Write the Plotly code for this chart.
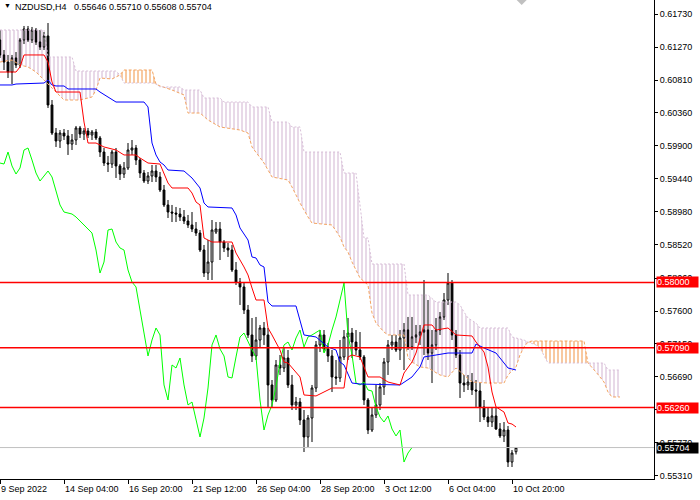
import numpy as np
import plotly.graph_objects as go

# NZDUSD H4 bars (left to right)
open_ = [0.61369, 0.61161, 0.61063, 0.60924, 0.61119, 0.61022, 0.61369, 0.61522, 0.61369, 0.61508,
         0.61341, 0.61272, 0.61425, 0.60466, 0.60076, 0.59965, 0.60076, 0.60035, 0.59923, 0.59979,
         0.60146, 0.60062, 0.60104, 0.60049, 0.60090, 0.60007, 0.59812, 0.59659, 0.59645, 0.59812,
         0.59618, 0.59506, 0.59590, 0.59840, 0.59868, 0.59701, 0.59520, 0.59409, 0.59479, 0.59548,
         0.59465, 0.59284, 0.59076, 0.58978, 0.58964, 0.58950, 0.58909, 0.58853, 0.58798, 0.58742,
         0.58686, 0.58450, 0.58130, 0.58283, 0.58700, 0.58742, 0.58561, 0.58478, 0.58450, 0.58172,
         0.58005, 0.57936, 0.57616, 0.57269, 0.56977, 0.57199, 0.57366, 0.57269, 0.56574, 0.56365,
         0.56852, 0.56810, 0.56949, 0.56574, 0.56296, 0.56337, 0.56087, 0.55851, 0.56115, 0.56532,
         0.57130, 0.57269, 0.57074, 0.56977, 0.56685, 0.56671, 0.56963, 0.57241, 0.57296, 0.57171,
         0.57060, 0.56963, 0.56365, 0.55948, 0.56157, 0.56296, 0.56546, 0.56893, 0.57130, 0.57171,
         0.57060, 0.57227, 0.57338, 0.57102, 0.57241, 0.57269, 0.57310, 0.57338, 0.57018, 0.57130,
         0.57338, 0.57519, 0.57755, 0.57991, 0.57269, 0.56991, 0.56601, 0.56574, 0.56615, 0.56504,
         0.56490, 0.56268, 0.56129, 0.56059, 0.56143, 0.55962, 0.55865, 0.55948, 0.55503, 0.55646]
high = [0.61508, 0.61230, 0.61161, 0.61161, 0.61202, 0.61397, 0.61564, 0.61564, 0.61550, 0.61536,
        0.61508, 0.61480, 0.61605, 0.60535, 0.60146, 0.60118, 0.60132, 0.60118, 0.60062, 0.60174,
        0.60174, 0.60146, 0.60146, 0.60118, 0.60132, 0.60035, 0.59868, 0.59757, 0.59840, 0.59868,
        0.59645, 0.59673, 0.59937, 0.59979, 0.59910, 0.59729, 0.59562, 0.59534, 0.59632, 0.59632,
        0.59534, 0.59354, 0.59145, 0.59076, 0.59048, 0.59034, 0.59006, 0.58937, 0.58978, 0.58839,
        0.58728, 0.58520, 0.58589, 0.58867, 0.58839, 0.58839, 0.58589, 0.58547, 0.58520, 0.58283,
        0.58061, 0.57991, 0.57686, 0.57505, 0.57519, 0.57408, 0.57449, 0.57366, 0.56643, 0.56921,
        0.56991, 0.57102, 0.57060, 0.56713, 0.56407, 0.56393, 0.56226, 0.56157, 0.56574, 0.57185,
        0.57338, 0.57338, 0.57157, 0.57060, 0.56921, 0.57199, 0.57338, 0.57505, 0.57366, 0.57338,
        0.57310, 0.56991, 0.56393, 0.56254, 0.56574, 0.56601, 0.56949, 0.57199, 0.57269, 0.57269,
        0.57338, 0.57435, 0.57519, 0.57519, 0.57408, 0.57408, 0.58033, 0.57755, 0.57338, 0.57505,
        0.57588, 0.57852, 0.58130, 0.58033, 0.57338, 0.57060, 0.56713, 0.56713, 0.56740, 0.56643,
        0.56601, 0.56365, 0.56268, 0.56268, 0.56254, 0.56045, 0.56059, 0.56004, 0.55670, 0.55710]
low = [0.61119, 0.60952, 0.60841, 0.60757, 0.60980, 0.60980, 0.61313, 0.61341, 0.61327, 0.61300,
       0.61230, 0.61230, 0.60424, 0.60049, 0.59882, 0.59868, 0.59979, 0.59771, 0.59840, 0.59910,
       0.60007, 0.59979, 0.60007, 0.59979, 0.59979, 0.59743, 0.59618, 0.59534, 0.59590, 0.59451,
       0.59423, 0.59451, 0.59562, 0.59771, 0.59632, 0.59451, 0.59381, 0.59367, 0.59395, 0.59395,
       0.59256, 0.59048, 0.58895, 0.58839, 0.58839, 0.58853, 0.58811, 0.58756, 0.58700, 0.58645,
       0.58422, 0.58075, 0.58033, 0.58033, 0.58672, 0.58311, 0.58422, 0.58353, 0.58144, 0.57964,
       0.57686, 0.57560, 0.57227, 0.56893, 0.56921, 0.57088, 0.57130, 0.56268, 0.56268, 0.56337,
       0.56713, 0.56754, 0.56532, 0.56226, 0.56226, 0.56018, 0.55642, 0.55712, 0.55781, 0.56476,
       0.57032, 0.57032, 0.56893, 0.56476, 0.56574, 0.56615, 0.56921, 0.56921, 0.56949, 0.56991,
       0.56921, 0.56296, 0.55892, 0.55920, 0.56115, 0.56226, 0.56435, 0.56713, 0.57060, 0.57032,
       0.56921, 0.56782, 0.57060, 0.57060, 0.57157, 0.57130, 0.56991, 0.56921, 0.56601, 0.57060,
       0.57269, 0.57477, 0.57686, 0.57199, 0.56949, 0.56393, 0.56476, 0.56504, 0.56435, 0.56268,
       0.56059, 0.56087, 0.55990, 0.55990, 0.55948, 0.55837, 0.55781, 0.55434, 0.55434, 0.55608]
close = [0.61161, 0.61063, 0.60924, 0.61119, 0.61022, 0.61369, 0.61522, 0.61369, 0.61508, 0.61341,
         0.61272, 0.61425, 0.60466, 0.60076, 0.59965, 0.60076, 0.60035, 0.59923, 0.59979, 0.60146,
         0.60062, 0.60104, 0.60049, 0.60090, 0.60007, 0.59812, 0.59659, 0.59645, 0.59812, 0.59618,
         0.59506, 0.59590, 0.59840, 0.59868, 0.59701, 0.59520, 0.59409, 0.59479, 0.59548, 0.59465,
         0.59284, 0.59076, 0.58978, 0.58964, 0.58950, 0.58909, 0.58853, 0.58798, 0.58742, 0.58686,
         0.58450, 0.58130, 0.58283, 0.58728, 0.58742, 0.58561, 0.58478, 0.58450, 0.58172, 0.58005,
         0.57936, 0.57616, 0.57269, 0.56977, 0.57199, 0.57366, 0.57269, 0.56574, 0.56365, 0.56852,
         0.56810, 0.56949, 0.56574, 0.56296, 0.56337, 0.56087, 0.55851, 0.56115, 0.56532, 0.57130,
         0.57269, 0.57074, 0.56977, 0.56685, 0.56671, 0.56963, 0.57241, 0.57296, 0.57171, 0.57060,
         0.56963, 0.56365, 0.55948, 0.56157, 0.56296, 0.56546, 0.56893, 0.57130, 0.57171, 0.57060,
         0.57227, 0.57338, 0.57102, 0.57241, 0.57269, 0.57310, 0.57338, 0.57018, 0.57130, 0.57338,
         0.57519, 0.57755, 0.57991, 0.57269, 0.56991, 0.56601, 0.56574, 0.56615, 0.56504, 0.56490,
         0.56268, 0.56129, 0.56059, 0.56143, 0.55962, 0.55865, 0.55948, 0.55503, 0.55628, 0.55704]

tick_index = [0, 16, 32, 48, 64, 80, 96, 112, 128]
tick_label = ["9 Sep 2022", "14 Sep 04:00", "16 Sep 20:00", "21 Sep 12:00", "26 Sep 04:00",
              "28 Sep 20:00", "3 Oct 12:00", "6 Oct 04:00", "10 Oct 20:00"]
price_ticks = [0.61730, 0.61270, 0.60810, 0.60360, 0.59900, 0.59440, 0.58980, 0.58520,
               0.58060, 0.57600, 0.57150, 0.56690, 0.56230, 0.55770, 0.55310]

# ichimoku lines, read at the bars where they turn
tenkan_idx = [0, 4, 5, 6, 11, 12, 13, 14, 20, 21, 22, 24, 26, 29, 31, 34, 35, 37, 40, 42, 43, 47, 48,
              49, 50, 51, 52, 53, 58, 59, 61, 62, 63, 64, 66, 67, 68, 69, 70, 71, 72, 75, 76, 79, 81,
              83, 86, 87, 88, 90, 92, 95, 97, 100, 101, 102, 103, 104, 105, 106, 108, 109, 112, 114,
              118, 119, 121, 122, 123, 124, 126, 127, 128, 129]
tenkan = [0.60924, 0.60924, 0.60994, 0.61161, 0.61161, 0.61063, 0.60785, 0.60646, 0.60646, 0.60229,
          0.59937, 0.59937, 0.59882, 0.59840, 0.59771, 0.59771, 0.59729, 0.59659, 0.59645, 0.59381,
          0.59312, 0.59312, 0.59242, 0.59117, 0.59076, 0.58617, 0.58589, 0.58561, 0.58561, 0.58408,
          0.58214, 0.58103, 0.57922, 0.57755, 0.57755, 0.57366, 0.57269, 0.57157, 0.57060, 0.56893,
          0.56879, 0.56685, 0.56435, 0.56421, 0.56476, 0.56532, 0.56532, 0.56963, 0.56991, 0.56963,
          0.56685, 0.56685, 0.56615, 0.56574, 0.56740, 0.56810, 0.56893, 0.57018, 0.57199, 0.57408,
          0.57408, 0.57338, 0.57366, 0.57269, 0.57255, 0.57171, 0.57032, 0.56824, 0.56476, 0.56268,
          0.56198, 0.56045, 0.56031, 0.55990]
kijun_idx = [0, 3, 4, 11, 12, 13, 14, 16, 17, 24, 25, 27, 29, 36, 37, 38, 39, 40, 41, 42, 46, 48, 50,
             51, 52, 58, 59, 60, 62, 63, 64, 65, 66, 67, 68, 74, 75, 76, 79, 81, 82, 84, 85, 86, 87,
             88, 90, 100, 103, 104, 105, 106, 112, 118, 119, 121, 124, 127, 129]
kijun = [0.60744, 0.60744, 0.60757, 0.60771, 0.60813, 0.60744, 0.60730, 0.60730, 0.60688, 0.60688,
         0.60646, 0.60577, 0.60507, 0.60507, 0.60438, 0.59937, 0.59771, 0.59673, 0.59632, 0.59562,
         0.59548, 0.59451, 0.59312, 0.59103, 0.59048, 0.59034, 0.58937, 0.58756, 0.58589, 0.58353,
         0.58339, 0.58242, 0.58214, 0.57727, 0.57672, 0.57672, 0.57477, 0.57269, 0.57241, 0.57157,
         0.57102, 0.57060, 0.56893, 0.56852, 0.56713, 0.56601, 0.56587, 0.56574, 0.56685, 0.56754,
         0.56824, 0.56963, 0.57018, 0.57018, 0.57143, 0.57088, 0.57018, 0.56810, 0.56782]
span_a_idx = [0, 3, 5, 7, 9, 11, 13, 15, 16, 20, 23, 24, 25, 28, 30, 31, 38, 39, 40, 43, 46, 47, 50,
              52, 55, 60, 62, 63, 66, 68, 72, 73, 75, 77, 78, 83, 85, 86, 87, 88, 90, 92, 93, 94, 96,
              97, 101, 102, 103, 105, 107, 110, 112, 114, 117, 118, 122, 126, 127, 129, 130, 131, 132,
              133, 146, 147, 149, 151, 152, 153, 155]
span_a = [0.61063, 0.61091, 0.61022, 0.60994, 0.60924, 0.60813, 0.60716, 0.60605, 0.60535, 0.60535,
          0.60577, 0.60674, 0.60841, 0.60827, 0.60883, 0.60952, 0.60952, 0.60757, 0.60730, 0.60674,
          0.60605, 0.60354, 0.60354, 0.60257, 0.60160, 0.60118, 0.60076, 0.59882, 0.59659, 0.59465,
          0.59423, 0.59326, 0.59103, 0.58909, 0.58825, 0.58798, 0.58631, 0.58492, 0.58422, 0.58283,
          0.58061, 0.57964, 0.57574, 0.57435, 0.57310, 0.57269, 0.57269, 0.56949, 0.56893, 0.56824,
          0.56810, 0.56713, 0.56685, 0.56810, 0.56671, 0.56615, 0.56601, 0.56601, 0.56713, 0.56824,
          0.56991, 0.57102, 0.57171, 0.57185, 0.57185, 0.56879, 0.56754, 0.56615, 0.56476, 0.56407,
          0.56407]
span_b_idx = [0, 11, 12, 18, 19, 29, 30, 31, 38, 39, 40, 45, 46, 50, 51, 55, 56, 62, 63, 67, 68, 72,
              73, 75, 76, 85, 86, 89, 90, 91, 92, 93, 101, 102, 107, 109, 114, 115, 116, 117, 119,
              120, 127, 128, 131, 132, 134, 135, 137, 147, 151, 152, 155]
span_b = [0.61508, 0.61508, 0.61133, 0.61133, 0.60938, 0.60938, 0.60883, 0.60771, 0.60771, 0.60757,
          0.60716, 0.60716, 0.60674, 0.60674, 0.60563, 0.60563, 0.60507, 0.60507, 0.60438, 0.60438,
          0.60229, 0.60229, 0.60160, 0.60160, 0.59812, 0.59812, 0.59520, 0.59520, 0.59076, 0.58617,
          0.58617, 0.58255, 0.58255, 0.57825, 0.57825, 0.57727, 0.57727, 0.57686, 0.57588, 0.57505,
          0.57435, 0.57366, 0.57366, 0.57241, 0.57199, 0.57171, 0.57130, 0.57088, 0.56879, 0.56879,
          0.56879, 0.56782, 0.56782]
chikou_shift = 26

# cloud pieces between crossings: from bar, to bar, colour
cloud_parts = [(0, 30, "#D8BFD8"), (30, 39, "#F4A460"), (39, 132, "#D8BFD8"),
               (132, 147, "#F4A460"), (147, 155, "#D8BFD8")]

levels = [0.58000, 0.57090, 0.56260]

FONT = "Liberation Sans"
bar = np.arange(len(close))

fig = go.Figure()

# kumo, hatched with thin vertical lines
for lo, hi, col in cloud_parts:
    ax = [i for i in span_a_idx if lo <= i <= hi]
    ay = [v for i, v in zip(span_a_idx, span_a) if lo <= i <= hi]
    bx = [i for i in span_b_idx if lo <= i <= hi]
    by = [v for i, v in zip(span_b_idx, span_b) if lo <= i <= hi]
    fig.add_trace(go.Scatter(x=ax + bx[::-1], y=ay + by[::-1], mode="none", fill="toself",
                             fillcolor="rgba(0,0,0,0)",
                             fillpattern=dict(shape="|", fgcolor=col, bgcolor="rgba(0,0,0,0)",
                                              size=4, solidity=0.3, fgopacity=1),
                             hoverinfo="skip"))

fig.add_trace(go.Scatter(x=span_a_idx, y=span_a, mode="lines",
                         line=dict(color="#F4A460", width=1, dash="3px,2px")))
fig.add_trace(go.Scatter(x=span_b_idx, y=span_b, mode="lines",
                         line=dict(color="#D8BFD8", width=1, dash="2px,2px")))

fig.add_trace(go.Candlestick(x=bar, open=open_, high=high, low=low, close=close,
                             increasing=dict(line=dict(color="black", width=1), fillcolor="white"),
                             decreasing=dict(line=dict(color="black", width=1), fillcolor="black"),
                             whiskerwidth=0))

fig.add_trace(go.Scatter(x=bar[chikou_shift:] - chikou_shift, y=close[chikou_shift:], mode="lines",
                         line=dict(color="#00FF00", width=1)))
fig.add_trace(go.Scatter(x=kijun_idx, y=kijun, mode="lines", line=dict(color="#0000FF", width=1)))
fig.add_trace(go.Scatter(x=tenkan_idx, y=tenkan, mode="lines", line=dict(color="#FF0000", width=1)))

# horizontal levels and the bid line
for lv in levels:
    fig.add_shape(type="line", xref="paper", x0=0, x1=1, y0=lv, y1=lv,
                  line=dict(color="#FF0000", width=1.5), layer="above")
fig.add_shape(type="line", xref="paper", x0=0, x1=1, y0=close[-1], y1=close[-1],
              line=dict(color="#C0C0C0", width=1), layer="above")

# chart shift marker
fig.add_shape(type="path", xref="paper", yref="paper",
              path="M 0.790,1 L 0.8053,1 L 0.7977,0.9896 Z",
              fillcolor="#C0C0C0", line=dict(width=0))

for lv in levels:
    fig.add_annotation(xref="paper", x=1, y=lv, xanchor="left", xshift=2, text=f"{lv:.5f}",
                       showarrow=False, bgcolor="#FF0000", width=41, height=10, align="left",
                       borderpad=0, font=dict(family=FONT, size=9, color="white"))
fig.add_annotation(xref="paper", x=1, y=close[-1], xanchor="left", xshift=2, text=f"{close[-1]:.5f}",
                   showarrow=False, bgcolor="black", width=41, height=10, align="left",
                   borderpad=0, font=dict(family=FONT, size=9, color="white"))

for i, t in zip(tick_index, tick_label):
    fig.add_annotation(x=i, xref="x", y=0, yref="paper", xanchor="left", yanchor="top",
                       xshift=-1, yshift=-3, text=t, showarrow=False,
                       font=dict(family=FONT, size=9, color="black"))

fig.add_annotation(xref="paper", yref="paper", x=0, y=1, xanchor="left", yanchor="top",
                   xshift=2, yshift=0, text="\u25bc", showarrow=False,
                   font=dict(family=FONT, size=7, color="black"))
fig.add_annotation(xref="paper", yref="paper", x=0, y=1, xanchor="left", yanchor="top",
                   xshift=13, yshift=0,
                   text="NZDUSD,H4\u00a0\u00a0 " + " ".join(f"{v:.5f}" for v in
                                                         (open_[-1], high[-1], low[-1], close[-1])),
                   showarrow=False, font=dict(family=FONT, size=9, color="black"))

fig.update_layout(
    width=700, height=500,
    margin=dict(l=0, r=46, t=0, b=21),
    paper_bgcolor="white", plot_bgcolor="white",
    showlegend=False, boxgap=0.35,
    xaxis=dict(range=[0, 163.5], tickvals=tick_index, showticklabels=False, ticks="outside",
               ticklen=4, tickcolor="black", showline=True, linecolor="black", linewidth=1,
               showgrid=False, zeroline=False, rangeslider=dict(visible=False)),
    yaxis=dict(range=[0.55267, 0.61925], side="right", tickvals=price_ticks,
               ticktext=[f"{v:.5f}" for v in price_ticks], ticks="outside", ticklen=3,
               tickcolor="black", showline=True, linecolor="black", linewidth=1,
               showgrid=False, zeroline=False, tickfont=dict(family=FONT, size=9, color="black")),
)

# page body margin off so the chart sits at the window corner
fig.write_html("out.html", config={"displayModeBar": False},
               post_script="document.body.style.margin='0';")
